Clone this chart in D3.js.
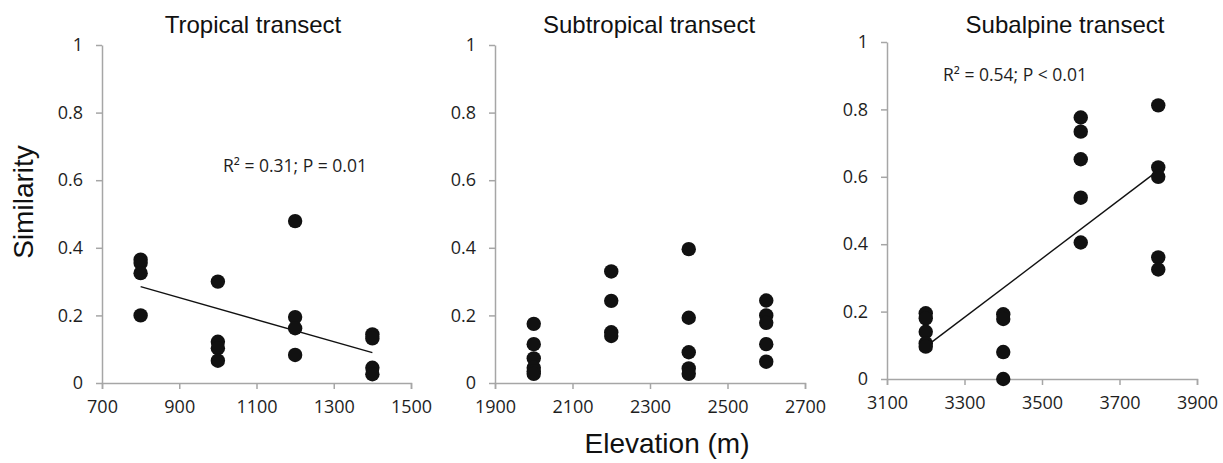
<!DOCTYPE html>
<html>
<head>
  <meta charset="utf-8" />
  <script src="https://cdn.jsdelivr.net/npm/d3@7"></script>
  <style>
    body { margin: 0; background: #fff; }
    .axis path, .axis line { stroke: #a6a6a6; stroke-width: 1.5px; }
    .axis text { font-family: "Open Sans", sans-serif; font-size: 18px; fill: #1e1e1e; }
    .title { font-family: "Liberation Sans", Arial, sans-serif; font-size: 24px; fill: #111; }
    .big { font-family: "Liberation Sans", Arial, sans-serif; font-size: 28px; fill: #111; }
    .stat { font-family: "Open Sans", sans-serif; font-size: 17.5px; fill: #1e1e1e; }
  </style>
</head>
<body>
<script>
  "use strict";

  var titles = ["Tropical transect", "Subtropical transect", "Subalpine transect"];
  var yTicks = [0, 0.2, 0.4, 0.6, 0.8, 1];

  var tropX = [800, 800, 800, 800, 1000, 1000, 1000, 1000, 1200, 1200, 1200, 1200, 1400, 1400, 1400, 1400];
  var tropY = [0.365, 0.355, 0.325, 0.20, 0.30, 0.122, 0.103, 0.066, 0.479, 0.195, 0.162, 0.083, 0.144, 0.132, 0.045, 0.026];
  var tropTicks = [700, 900, 1100, 1300, 1500];
  var tropTrendX = [800, 1400];
  var tropTrendY = [0.285, 0.09];

  var subtX = [2000, 2000, 2000, 2000, 2000, 2000, 2200, 2200, 2200, 2200, 2400, 2400, 2400, 2400, 2400, 2600, 2600, 2600, 2600, 2600];
  var subtY = [0.175, 0.115, 0.073, 0.045, 0.035, 0.027, 0.33, 0.243, 0.15, 0.139, 0.396, 0.193, 0.091, 0.043, 0.027, 0.244, 0.2, 0.178, 0.115, 0.063];
  var subtTicks = [1900, 2100, 2300, 2500, 2700];

  var alpX = [3200, 3200, 3200, 3200, 3200, 3400, 3400, 3400, 3400, 3600, 3600, 3600, 3600, 3600, 3800, 3800, 3800, 3800, 3800];
  var alpY = [0.195, 0.18, 0.14, 0.106, 0.096, 0.192, 0.178, 0.08, 0, 0.776, 0.734, 0.652, 0.538, 0.405, 0.812, 0.628, 0.6, 0.361, 0.325];
  var alpTicks = [3100, 3300, 3500, 3700, 3900];
  var alpTrendX = [3200, 3790];
  var alpTrendY = [0.096, 0.61];

  var statLabels = ["R\u00B2 = 0.31; P = 0.01", null, "R\u00B2 = 0.54; P < 0.01"];

  var width = 1223, height = 463;

  var svg = d3.select("body").append("svg")
    .attr("width", width)
    .attr("height", height);

  var panels = [
    { xs: tropX, ys: tropY, ticks: tropTicks, tx: tropTrendX, ty: tropTrendY,
      left: 102, right: 411, top: 45, bottom: 383, titleX: 253, titleY: 33, statX: 223, statY: 172 },
    { xs: subtX, ys: subtY, ticks: subtTicks, tx: null, ty: null,
      left: 495, right: 805, top: 45, bottom: 383, titleX: 649, titleY: 33 },
    { xs: alpX, ys: alpY, ticks: alpTicks, tx: alpTrendX, ty: alpTrendY,
      left: 887, right: 1197, top: 42, bottom: 379, titleX: 1065, titleY: 33, statX: 943, statY: 81 }
  ];

  panels.forEach(function(p, i) {
    var x = d3.scaleLinear()
      .domain([p.ticks[0], p.ticks[p.ticks.length - 1]])
      .range([p.left, p.right]);
    var y = d3.scaleLinear().domain([0, 1]).range([p.bottom, p.top]);

    var g = svg.append("g");

    g.append("g").attr("class", "axis")
      .attr("transform", "translate(0," + p.bottom + ")")
      .call(d3.axisBottom(x).tickValues(p.ticks).tickSize(6).tickSizeOuter(6).tickPadding(11).tickFormat(d3.format("d")));

    g.append("g").attr("class", "axis")
      .attr("transform", "translate(" + p.left + ",0)")
      .call(d3.axisLeft(y).tickValues(yTicks).tickSize(6).tickSizeOuter(0).tickPadding(13)
        .tickFormat(function(d) { return d === 0 ? "0" : d === 1 ? "1" : d3.format(".1f")(d); }));

    // trend line
    if (p.tx) {
      g.append("line")
        .attr("x1", x(p.tx[0])).attr("y1", y(p.ty[0]))
        .attr("x2", x(p.tx[1])).attr("y2", y(p.ty[1]))
        .attr("stroke", "#111").attr("stroke-width", 1.4);
    }

    g.selectAll("circle.pt").data(p.xs).enter()
      .append("circle")
      .attr("class", "pt")
      .attr("cx", function(d) { return x(d); })
      .attr("cy", function(d, j) { return y(p.ys[j]); })
      .attr("r", 7.2)
      .attr("fill", "#111");

    g.append("text").attr("class", "title")
      .attr("x", p.titleX).attr("y", p.titleY)
      .attr("text-anchor", "middle")
      .text(titles[i]);

    if (statLabels[i]) {
      g.append("text").attr("class", "stat")
        .attr("x", p.statX).attr("y", p.statY)
        .text(statLabels[i]);
    }
  });

  svg.append("text").attr("class", "big")
    .attr("transform", "translate(33,202) rotate(-90)")
    .attr("text-anchor", "middle")
    .text("Similarity");

  svg.append("text").attr("class", "big")
    .attr("x", 667).attr("y", 453)
    .attr("text-anchor", "middle")
    .text("Elevation (m)");
</script>
</body>
</html>
